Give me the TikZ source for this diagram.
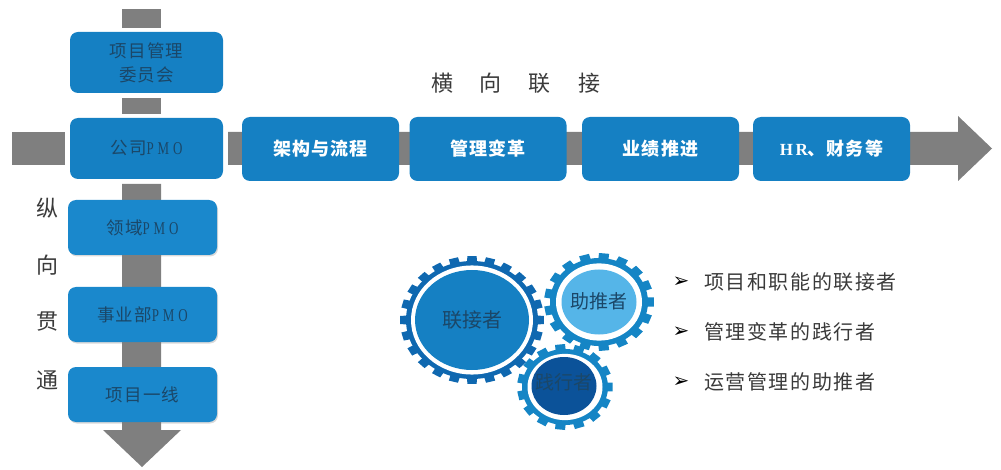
\documentclass[tikz,border=0pt]{standalone}
\usepackage{fontspec}
\setmainfont{Noto Sans CJK SC}
\newfontfamily\latf[FakeStretch=0.72,LetterSpace=22]{Liberation Serif}
\newfontfamily\latb[LetterSpace=14]{Liberation Serif Bold}
\newfontfamily\cjkwide[LetterSpace=6]{Noto Sans CJK SC}
\newfontfamily\itemfont[LetterSpace=8]{Noto Sans CJK SC}
\newfontfamily\dingf{DejaVu Sans}
\usetikzlibrary{shapes.geometric,shadows}
\definecolor{boxa}{HTML}{1580C3}
\definecolor{boxb}{HTML}{1A88CC}
\definecolor{inka}{HTML}{1B4768}
\definecolor{labelink}{HTML}{3A3A3A}
\definecolor{bar}{HTML}{7F7F7F}
\definecolor{ringa}{HTML}{0F68B0}
\definecolor{ringb}{HTML}{1585C5}
\definecolor{hubb}{HTML}{55B5E8}
\definecolor{hubc}{HTML}{0B5299}
\newcommand{\pmo}{{\latf\fontsize{18}{20}\selectfont PMO}}
\tikzset{
  x=1pt,y=-1pt,
  barshape/.style={fill=bar,draw=none},
  boxbase/.style={rectangle,rounded corners=8pt,inner sep=0pt,align=center,text=inka,
     font=\cjkwide\fontsize{17.5}{24}\selectfont},
  topbox/.style={boxbase,fill=boxa,minimum width=153pt,minimum height=61pt},
  lowbox/.style={boxbase,fill=boxb,minimum width=149pt,minimum height=55pt,
     drop shadow={opacity=.3,shadow xshift=1pt,shadow yshift=-1.5pt}},
  rowbox/.style={boxbase,fill=boxa,minimum width=157pt,minimum height=64pt,text=white,
     font=\cjkwide\bfseries\fontsize{18}{20}\selectfont},
  hub/.style={ellipse,inner sep=0pt,text=inka,font=\fontsize{20}{22}\selectfont},
  smallhub/.style={ellipse,inner sep=0pt,text=inka,font=\fontsize{19}{22}\selectfont},
  sidelabel/.style={inner sep=0pt,text=labelink,font=\fontsize{22}{24}\selectfont},
  item/.style={inner sep=0pt,anchor=west,text=labelink,font=\itemfont\fontsize{20}{24}\selectfont},
  tick/.style={inner sep=0pt,text=black,font=\dingf\fontsize{20}{22}\selectfont},
}
% cx cy, tooth rx ry, body rx ry, teeth, ring colour, white rx
\newcommand{\cogring}[9]{%
  \begin{scope}[shift={(#1,#2)}]
    \pgfmathsetmacro{\stepang}{360/#7}
    \pgfmathsetmacro{\halfw}{\stepang*0.29}
    \pgfmathsetmacro{\halfo}{\stepang*0.25}
    \foreach \k in {1,...,#7}{
      \pgfmathsetmacro{\ang}{\k*\stepang}
      \fill[#8] (\ang-\halfw:#5*0.97pt and #6*0.97pt) -- (\ang-\halfo:#3pt and #4pt)
        -- (\ang+\halfo:#3pt and #4pt) -- (\ang+\halfw:#5*0.97pt and #6*0.97pt) -- cycle;
    }
    \fill[#8] (0,0) ellipse [x radius=#5pt,y radius=#6pt];
    \fill[white] (0,0) ellipse [x radius=#9*1pt,y radius=#9*#6/#5*1pt];
  \end{scope}}
% text that does not size the hub: width and height zero, centred by the raise
\newcommand{\hubtext}[2]{\makebox[0pt]{\raisebox{#1}[0pt][0pt]{#2}}}
\begin{document}
\begin{tikzpicture}
\useasboundingbox (0,0) rectangle (1001,470);
% horizontal block arrow
\fill[barshape] (12,132) rectangle (65,165);
\fill[barshape] (228,132) -- (958,132) -- (958,116) -- (992,148.5) -- (958,181) -- (958,165) -- (228,165) -- cycle;
% vertical bars
\fill[barshape] (122,9) rectangle (161,28);
\fill[barshape] (122,98) rectangle (161,114);
\fill[barshape] (122,184) -- (161,184) -- (161,430) -- (181,430) -- (142,467) -- (103,430) -- (122,430) -- cycle;
% boxes
\node[topbox] (committee) at (146.5,62.5) {项目管理\\委员会};
\node[topbox] (company) at (146.5,148.5) {\raisebox{1.5pt}{公司\pmo}};
\node[lowbox] (domain) at (142.5,227.5) {领域\pmo};
\node[lowbox] (division) at (142.5,314.5) {事业部\pmo};
\node[lowbox] (front) at (142.5,394.5) {项目一线};
\node[rowbox] (arch) at (320.5,149) {架构与流程};
\node[rowbox] (change) at (488,149) {管理变革};
\node[rowbox] (perf) at (660.5,149) {业绩推进};
\node[rowbox] (hr) at (831.5,149) {{\latb\fontsize{17}{20}\selectfont HR}、财务等};
% labels
\node[sidelabel] (h1) at (442,83) {横};
\node[sidelabel] (h2) at (490,83) {向};
\node[sidelabel] (h3) at (539,83) {联};
\node[sidelabel] (h4) at (589,83) {接};
\node[sidelabel] (v1) at (47,208) {纵};
\node[sidelabel] (v2) at (47,265) {向};
\node[sidelabel] (v3) at (47,322) {贯};
\node[sidelabel] (v4) at (47,380) {通};
% gears
\cogring{472}{320}{72}{64}{66}{59}{24}{ringa}{61}
\cogring{599}{302}{55}{49}{49}{44}{17}{ringb}{43}
\cogring{565}{387}{48}{43}{43}{38}{15}{ringb}{37.5}
\node[hub,fill=boxa,minimum width=114pt,minimum height=100pt] (link) at (472,320) {\hubtext{-7pt}{联接者}};
\node[smallhub,fill=hubb,minimum width=75pt,minimum height=65pt] (push) at (599,302) {\hubtext{-6pt}{助推者}};
\node[smallhub,fill=hubc,minimum width=65pt,minimum height=58pt] (act) at (564,386) {\hubtext{-3.5pt}{践行者}};
% list
\node[tick] (t1) at (681,282) {➢};
\node[tick] (t2) at (681,332) {➢};
\node[tick] (t3) at (681,382) {➢};
\node[item] (i1) at (704,282) {项目和职能的联接者};
\node[item] (i2) at (704,332) {管理变革的践行者};
\node[item] (i3) at (704,382) {运营管理的助推者};
\end{tikzpicture}
\end{document}
